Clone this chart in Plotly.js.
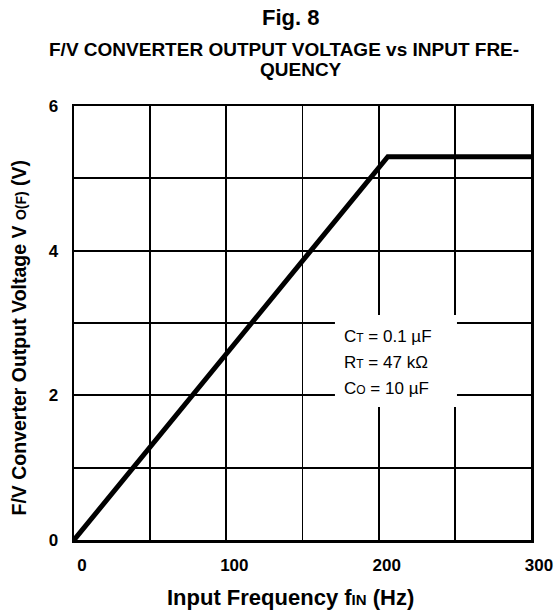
<!DOCTYPE html>
<html>
<head>
<meta charset="utf-8">
<script src="https://cdn.plot.ly/plotly-3.0.1.min.js"></script>
<style>html,body{margin:0;padding:0;background:#fff;}#chart{width:556px;height:612px;}</style>
</head>
<body>
<div id="chart"></div>
<script>
// Data
const freqHz = [0, 206, 300];
const voltV = [0, 5.3, 5.3];
const xTickVals = [0, 100, 200, 300];
const xTickText = ['0', '100', '200', '300'];
const yTickVals = [0, 2, 4, 6];
const yTickText = ['0', '2', '4', '6'];
const conditionLines = [
  'C<span style="font-size:12px">T</span> = 0.1 µF',
  'R<span style="font-size:12px">T</span> = 47 kΩ',
  'C<span style="font-size:12px">O</span> = 10 µF'
];
const conditionY = [2.81, 2.45, 2.09];

const FONT = 'Liberation Sans, Arial, Helvetica, sans-serif';

const trace = {
  x: freqHz, y: voltV, type: 'scatter', mode: 'lines',
  line: {color: '#000', width: 5},
  hoverinfo: 'skip', showlegend: false
};

const annotations = [
  {xref: 'paper', yref: 'paper', x: 0.473, y: 1, yshift: 106 - 17, xanchor: 'center', yanchor: 'middle',
   text: '<b>Fig. 8</b>', showarrow: false, font: {family: FONT, size: 22, color: '#000'}},
  {xref: 'paper', yref: 'paper', x: 0.46, y: 1, yshift: 106 - 49, xanchor: 'center', yanchor: 'middle',
   text: '<b>F/V CONVERTER OUTPUT VOLTAGE vs INPUT FRE-</b>', showarrow: false, font: {family: FONT, size: 19, color: '#000'}},
  {xref: 'paper', yref: 'paper', x: 0.497, y: 1, yshift: 106 - 69, xanchor: 'center', yanchor: 'middle',
   text: '<b>QUENCY</b>', showarrow: false, font: {family: FONT, size: 19, color: '#000'}},
  // x axis title
  {xref: 'paper', yref: 'paper', x: (290 - 74) / 457, y: 0, yshift: -(597 - 540), xanchor: 'center', yanchor: 'middle',
   text: '<b>Input Frequency f<span style="font-size:15px">IN</span> (Hz)</b>', showarrow: false,
   font: {family: FONT, size: 22, color: '#000'}},
  // y axis title
  {xref: 'paper', yref: 'paper', x: 0, xshift: -(74 - 18), y: (540 - 337.5) / 434, xanchor: 'center', yanchor: 'middle',
   textangle: -90,
   text: '<b>F/V Converter Output Voltage V <span style="font-size:14px">O(F)</span> (V)</b>', showarrow: false,
   font: {family: FONT, size: 19.5, color: '#000'}}
];
conditionLines.forEach((t, i) => annotations.push({
  xref: 'x', yref: 'y', x: 176, y: conditionY[i], xanchor: 'left', yanchor: 'middle',
  text: t, showarrow: false, font: {family: FONT, size: 17, color: '#000'}
}));

const layout = {
  width: 556, height: 612,
  margin: {l: 74, r: 25, t: 106, b: 72},
  paper_bgcolor: '#fff', plot_bgcolor: '#fff',
  font: {family: FONT, color: '#000'},
  showlegend: false,
  xaxis: {
    range: [0, 300], tickvals: xTickVals, ticktext: xTickText,
    showgrid: false, zeroline: false,
    showline: true, mirror: true, linecolor: '#000', linewidth: 2.5,
    ticks: '', ticklabelstandoff: 8, ticklabelshift: 8,
    tickfont: {family: FONT, size: 17, color: '#000', weight: 'bold'},
    minor: {dtick: 50, tick0: 0, showgrid: true, gridcolor: '#000', gridwidth: 1.8, ticks: ''},
    fixedrange: true
  },
  yaxis: {
    range: [0, 6], tickvals: yTickVals, ticktext: yTickText,
    showgrid: false, zeroline: false,
    showline: true, mirror: true, linecolor: '#000', linewidth: 2.5,
    ticks: '', ticklabelstandoff: 10,
    tickfont: {family: FONT, size: 17, color: '#000', weight: 'bold'},
    minor: {dtick: 1, tick0: 0, showgrid: true, gridcolor: '#000', gridwidth: 1.8, ticks: ''},
    fixedrange: true
  },
  shapes: [
    {type: 'rect', xref: 'x', yref: 'y', x0: 171.3, x1: 251.4, y0: 1.84, y1: 3.11,
     fillcolor: '#fff', line: {width: 0}, layer: 'above'}
  ],
  annotations: annotations
};

Plotly.newPlot('chart', [trace], layout, {displayModeBar: false, staticPlot: true});
</script>
</body>
</html>
